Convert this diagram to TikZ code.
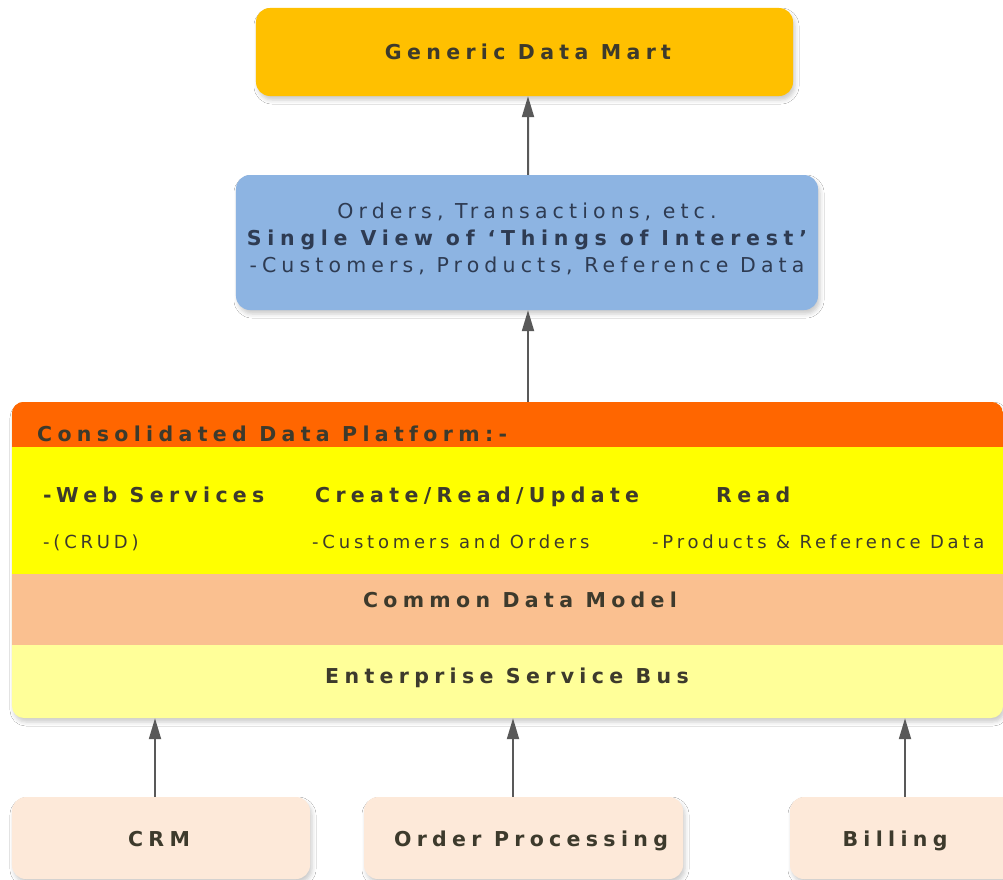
\documentclass[tikz,border=0pt]{standalone}
\usepackage{fontspec}
\setmainfont{DejaVu Sans}
\usetikzlibrary{arrows.meta}
\usetikzlibrary{shadows.blur}
\definecolor{martBgColor}{HTML}{FFC000}
\definecolor{viewBgColor}{HTML}{8DB4E2}
\definecolor{headerBgColor}{HTML}{FF6600}
\definecolor{apiBgColor}{HTML}{FFFF00}
\definecolor{modelBgColor}{HTML}{FAC090}
\definecolor{busBgColor}{HTML}{FFFF99}
\definecolor{sourceBgColor}{HTML}{FDE9D9}
\definecolor{arrowColor}{HTML}{595959}
\definecolor{textColor}{HTML}{3D3A2C}
\definecolor{viewTextColor}{HTML}{2E3B52}

\begin{document}
\begin{tikzpicture}[x=1bp,y=-1bp,
boxStyle/.style={rectangle, rounded corners=14bp, inner sep=0pt,
blur shadow={shadow xshift=2bp, shadow yshift=-4bp, shadow blur radius=4bp, shadow opacity=20}},
sourceBox/.style={boxStyle, fill=sourceBgColor, minimum height=82bp},
boldLabel/.style={inner sep=0pt, text=textColor,
font=\fontsize{20.5bp}{24bp}\selectfont\bfseries\addfontfeature{LetterSpace=26}},
plainLabel/.style={inner sep=0pt, text=textColor,
font=\fontsize{18bp}{22bp}\selectfont\addfontfeature{LetterSpace=21}},
upArrow/.style={draw=arrowColor, line width=2bp, -{Triangle[length=21bp, width=12bp]}}]

% page
\fill[white] (0, 0) rectangle (1003, 880);
\useasboundingbox (0, 0) rectangle (1003, 880);

% box layer
\begin{scope}
\node[boxStyle, fill=martBgColor, minimum width=537bp, minimum height=88bp]
(mart) at (524.5, 52) {};
\node[boxStyle, fill=viewBgColor, minimum width=582bp, minimum height=135bp]
(view) at (527, 242.5) {};
\node[sourceBox, minimum width=298bp] (crm) at (161, 838) {};
\node[sourceBox, minimum width=319bp] (orders) at (523.5, 838) {};
\node[sourceBox, minimum width=226bp] (billing) at (903, 838) {};
\end{scope}

% platform layer
\begin{scope}
\node[boxStyle, rounded corners=12bp, fill=busBgColor, minimum width=991bp, minimum height=316bp]
(platform) at (507.5, 560) {};
\begin{scope}
\clip[rounded corners=12bp] (platform.north west) rectangle (platform.south east);
\fill[headerBgColor] (platform.north west) rectangle (platform.east |- 0, 447);
\fill[apiBgColor] (platform.west |- 0, 447) rectangle (platform.east |- 0, 574);
\fill[modelBgColor] (platform.west |- 0, 574) rectangle (platform.east |- 0, 645);
\end{scope}
\end{scope}

% label layer
\begin{scope}
\node[boldLabel, anchor=base] (martText) at (528, 59) {Generic Data Mart};
\node[inner sep=0pt, text=viewTextColor, align=center, anchor=base,
font=\fontsize{20.5bp}{27bp}\selectfont\addfontfeature{LetterSpace=25}]
(viewText) at (527, 272) {Orders, Transactions, etc.\\
{\bfseries\addfontfeature{LetterSpace=28}Single View of `Things of Interest'}\\
-Customers, Products, Reference Data};
\node[boldLabel, anchor=base west] (headerText) at (37, 441) {Consolidated Data Platform:-};
\node[boldLabel, anchor=base west] (webText) at (43, 502) {-Web Services};
\node[boldLabel, anchor=base west] (crudText) at (315, 502) {Create/Read/Update};
\node[boldLabel, anchor=base west] (readText) at (716, 502) {Read};
\node[plainLabel, anchor=base west] (crudNote) at (43, 548) {-(CRUD)};
\node[plainLabel, anchor=base west] (ordersNote) at (312, 548) {-Customers and Orders};
\node[plainLabel, anchor=base west] (readNote) at (652, 548) {-Products \& Reference Data};
\node[boldLabel, anchor=base] (modelText) at (520, 607) {Common Data Model};
\node[boldLabel, anchor=base] (busText) at (507, 683) {Enterprise Service Bus};
\node[boldLabel, anchor=base] (crmText) at (159, 846) {CRM};
\node[boldLabel, anchor=base] (ordersText) at (531, 846) {Order Processing};
\node[boldLabel, anchor=base] (billingText) at (895, 846) {Billing};
\end{scope}

% arrow layer
\begin{scope}
\draw[upArrow] (view.north -| mart.south) ++(3.5, 0) -- ([xshift=3.5bp]mart.south);
\draw[upArrow] (platform.north -| view.south) ++(1, 0) -- ([xshift=1bp]view.south);
\draw[upArrow] ([xshift=-6bp]crm.north) -- ([xshift=-6bp]crm.north |- platform.south);
\draw[upArrow] ([xshift=-10.5bp]orders.north) -- ([xshift=-10.5bp]orders.north |- platform.south);
\draw[upArrow] ([xshift=2bp]billing.north) -- ([xshift=2bp]billing.north |- platform.south);
\end{scope}

\end{tikzpicture}
\end{document}
